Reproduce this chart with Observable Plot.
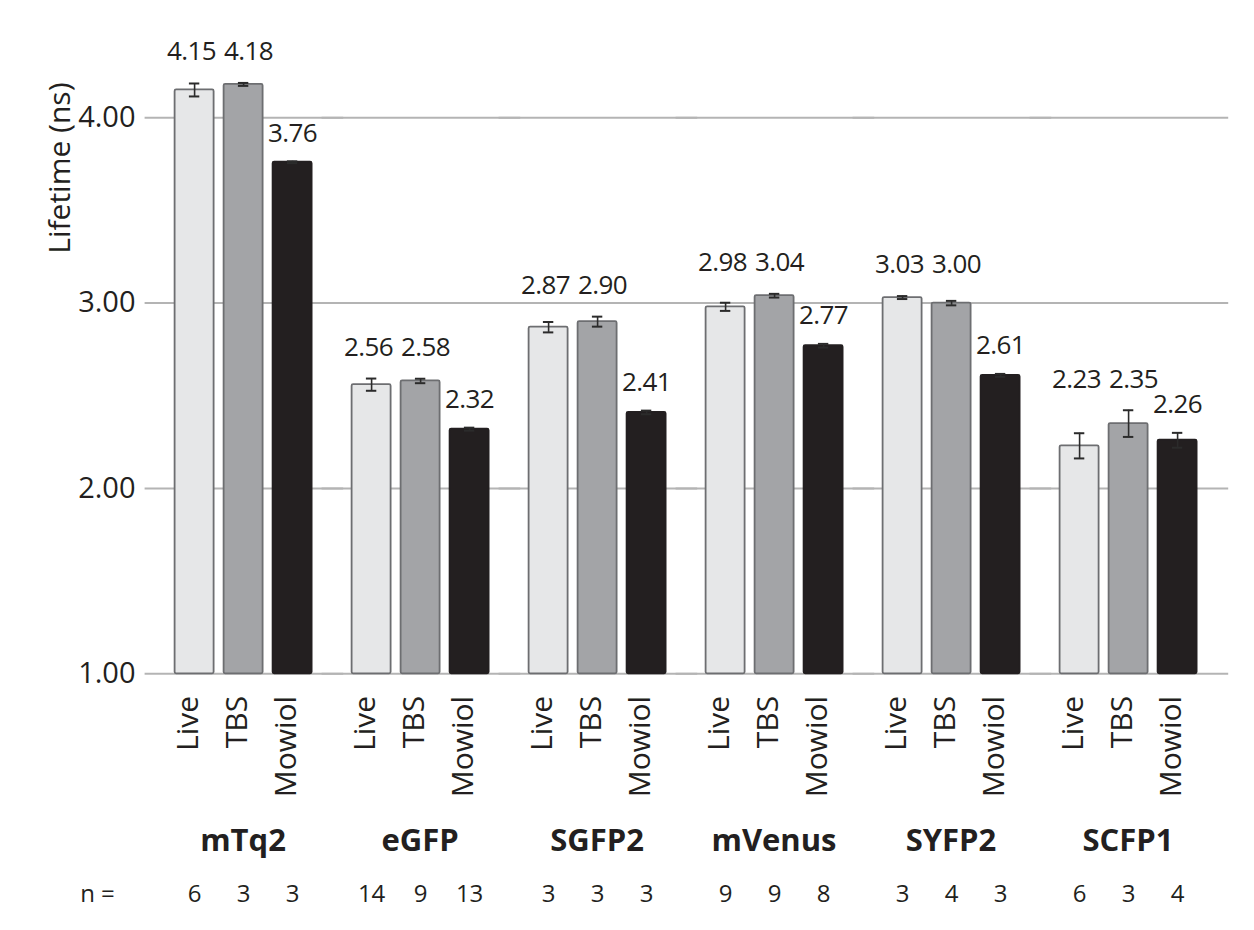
<!DOCTYPE html>
<html>
<head>
<meta charset="utf-8">
<script src="https://cdn.jsdelivr.net/npm/d3@7"></script>
<script src="https://cdn.jsdelivr.net/npm/@observablehq/plot@0.6"></script>
<style>
  html, body { margin: 0; padding: 0; background: #fff; }
  svg { display: block; }
  .vlabel text { letter-spacing: -0.6px; }
</style>
</head>
<body>
<div id="chart"></div>
<script>
// ---- data ----
const groups = ["mTq2", "eGFP", "SGFP2", "mVenus", "SYFP2", "SCFP1"];
const conditions = ["Live", "TBS", "Mowiol"];
const liveValues   = [4.15, 2.56, 2.87, 2.98, 3.03, 2.23];
const tbsValues    = [4.18, 2.58, 2.90, 3.04, 3.00, 2.35];
const mowiolValues = [3.76, 2.32, 2.41, 2.77, 2.61, 2.26];
const liveErrors   = [0.035, 0.033, 0.028, 0.022, 0.008, 0.068];
const tbsErrors    = [0.008, 0.012, 0.027, 0.010, 0.012, 0.072];
const mowiolErrors = [0.005, 0.008, 0.010, 0.010, 0.008, 0.040];
const liveN   = [6, 14, 3, 9, 3, 6];
const tbsN    = [3, 9, 3, 9, 4, 3];
const mowiolN = [3, 13, 3, 8, 3, 4];
const yTicks = [1, 2, 3, 4];

// ---- styles ----
const fills   = ["#e6e7e8", "#a3a4a7", "#231f20"];
const strokes = ["#6d6e71", "#6d6e71", "#231f20"];
const ink = "#231f20";
const font = "'Open Sans', sans-serif";

const valueSets = [liveValues, tbsValues, mowiolValues];
const errorSets = [liveErrors, tbsErrors, mowiolErrors];
const nSets = [liveN, tbsN, mowiolN];

const rows = groups.flatMap((g, i) => conditions.map((c, j) => {
  const pairTop = Math.max(liveValues[i] + liveErrors[i], tbsValues[i] + tbsErrors[i]);
  return {
    group: g, cond: c,
    value: valueSets[j][i], err: errorSets[j][i], n: nSets[j][i],
    labelBase: c === "Mowiol" ? mowiolValues[i] + mowiolErrors[i] : pairTop
  };
}));
const labelMark = (cond, dx, dy) => Plot.text(rows.filter(d => d.cond === cond), {
  fx: "group", x: "cond", y: "labelBase",
  text: d => d.value.toFixed(2), dx, dy,
  fontSize: 26, fontWeight: 500, fill: ink, className: "vlabel"
});

const chart = Plot.plot({
  width: 1254,
  height: 930,
  marginLeft: 152.4,
  marginRight: 35.4,
  marginTop: 24.6,
  marginBottom: 256.7,
  style: { fontFamily: font, background: "#fff", color: ink },
  fx: { domain: groups, padding: 0, axis: null },
  x: { domain: conditions, paddingInner: 0.21, paddingOuter: 0.38 },
  y: { domain: [1, 4.5] },
  marks: [
    Plot.ruleY(yTicks, { stroke: "#b4b4b4", strokeWidth: 2, insetLeft: -9.4, insetRight: -12.2 }),
    ...conditions.map((c, j) => Plot.barY(rows.filter(d => d.cond === c), {
      fx: "group", x: "cond", y1: 1, y2: "value",
      fill: fills[j], stroke: strokes[j], strokeWidth: 1.8, rx: 1.5
    })),
    Plot.ruleX(rows, {
      fx: "group", x: "cond",
      y1: d => d.value - d.err, y2: d => d.value + d.err,
      stroke: "#2b2b2b", strokeWidth: 1.6
    }),
    Plot.tickY(rows, { fx: "group", x: "cond", y: d => d.value + d.err, inset: 14.3, stroke: "#2b2b2b", strokeWidth: 2 }),
    Plot.tickY(rows, { fx: "group", x: "cond", y: d => d.value - d.err, inset: 14.3, stroke: "#2b2b2b", strokeWidth: 2 }),
    labelMark("Live", -3, -31),
    labelMark("TBS", 5, -31),
    labelMark("Mowiol", 0, -28),
    Plot.axisY({
      ticks: yTicks, tickFormat: d3.format(".2f"), tickSize: 0, tickPadding: 19,
      fontSize: 29, fontWeight: 500, label: null, fill: ink
    }),
    Plot.axisX({
      tickRotate: -90, tickSize: 0, tickPadding: 22, fontSize: 30, fontWeight: 500, label: null, dx: -6, fill: ink
    }),
    Plot.text(["Lifetime (ns)"], {
      fx: () => groups[0], frameAnchor: "top-left", rotate: -90, textAnchor: "end",
      dx: -105.7, dy: 57.4, fontSize: 30, fontWeight: 500, fill: ink
    }),
    Plot.text(groups, {
      fx: d => d, text: d => d, frameAnchor: "bottom", dy: 177,
      fontWeight: "bold", fontSize: 31, fill: ink
    }),
    Plot.text(rows, {
      fx: "group", x: "cond", text: "n", frameAnchor: "bottom", dy: 228,
      fontSize: 24, fontWeight: 500, fill: ink
    }),
    Plot.text(["n ="], {
      fx: () => groups[0], frameAnchor: "bottom-left", dx: -57, dy: 228,
      textAnchor: "middle", fontSize: 24, fontWeight: 500, fill: ink
    })
  ]
});

document.getElementById("chart").appendChild(chart);
</script>
</body>
</html>
